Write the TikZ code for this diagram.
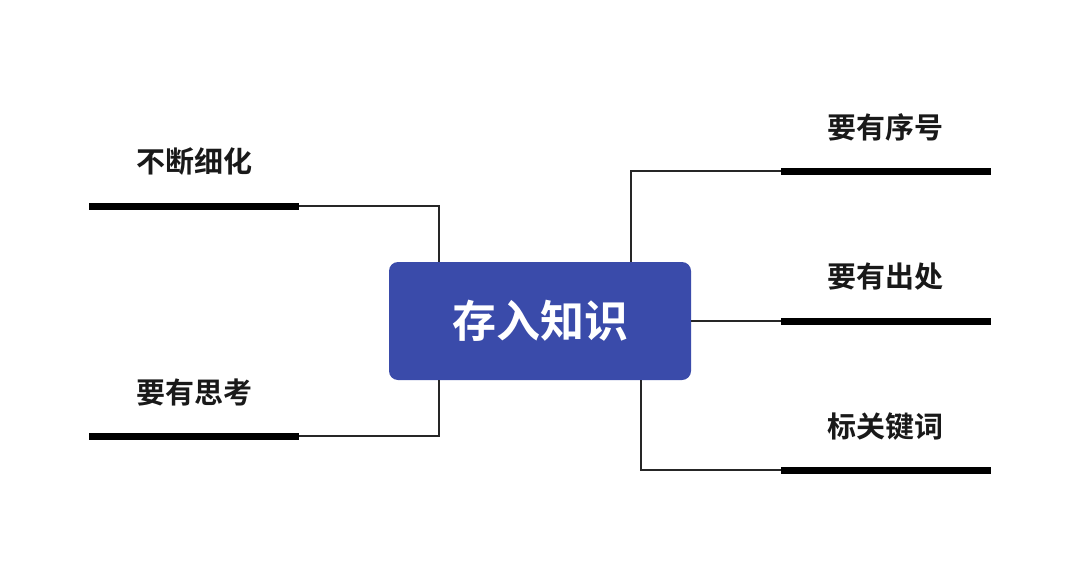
\documentclass[tikz,border=0pt]{standalone}
\usepackage{fontspec}
\newfontfamily\cjk{Noto Sans CJK SC Bold}
\definecolor{boxblue}{HTML}{3A4BAA}
\begin{document}
\begin{tikzpicture}[x=1pt,y=-1pt,
  bar/.style={line width=7pt},
  conn/.style={line width=1.2pt,black!85},
  lab/.style={font=\cjk\fontsize{29}{34}\selectfont,text=black!90}]
\useasboundingbox (0,0) rectangle (1080,565);
\node[fill=boxblue,rounded corners=9pt,minimum width=302pt,minimum height=118pt,inner sep=0,
  font=\cjk\fontsize{44}{50}\selectfont,text=white] (c) at (540,321) {存入知识};
\coordinate (l1a) at (89,206); \coordinate (l1b) at (299,206);
\coordinate (l2a) at (89,436); \coordinate (l2b) at (299,436);
\coordinate (r1a) at (781,171); \coordinate (r1b) at (991,171);
\coordinate (r2a) at (781,321); \coordinate (r2b) at (991,321);
\coordinate (r3a) at (781,470); \coordinate (r3b) at (991,470);
\foreach \a/\b in {l1a/l1b,l2a/l2b,r1a/r1b,r2a/r2b,r3a/r3b} \draw[bar] (\a) -- (\b);
\draw[conn] (l1b) -| (439,262);
\draw[conn] (l2b) -| (439,380);
\draw[conn] (r1a) -| (631,262);
\draw[conn] (c.east) -- (r2a);
\draw[conn] (r3a) -| (641,380);
\node[lab] (t1) at (194,162) {不断细化};
\node[lab] (t2) at (194,392) {要有思考};
\node[lab] (t3) at (885,127) {要有序号};
\node[lab] (t4) at (885,277) {要有出处};
\node[lab] (t5) at (885,427) {标关键词};
\end{tikzpicture}
\end{document}
